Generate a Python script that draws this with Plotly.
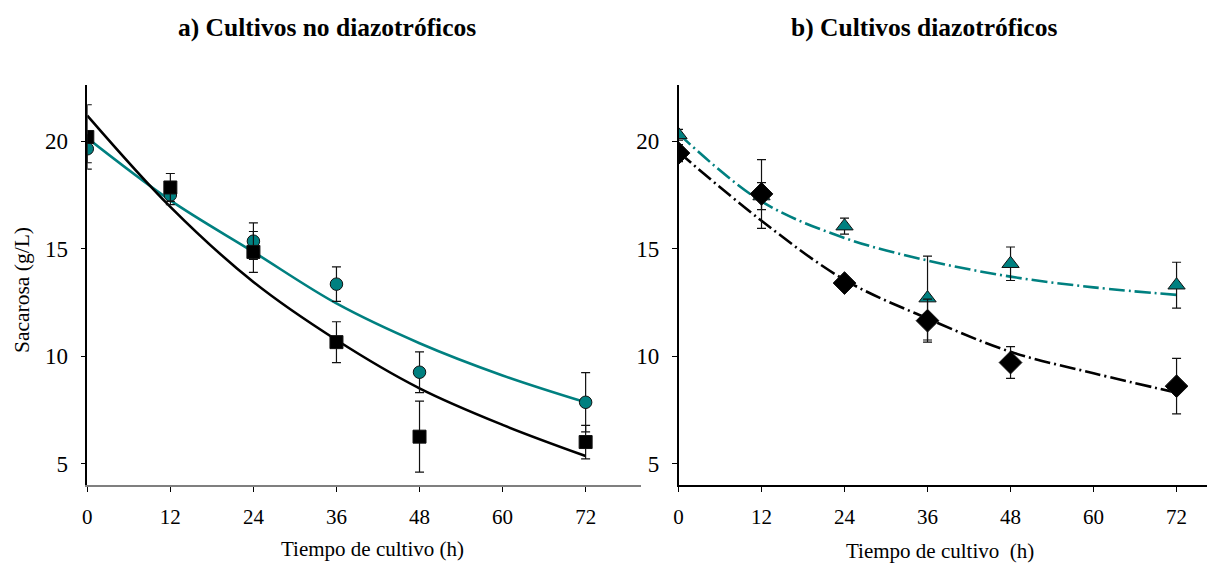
import plotly.graph_objects as go

# Sampling times (h) and measured sucrose (g/L) with standard deviations
horas = [0, 12, 24, 36, 48, 72]
horas_ajuste = [0, 12, 24, 36, 48, 60, 72]

# a) Non-diazotrophic cultures
no_diaz_circ = [19.65, 17.5, 15.35, 13.35, 9.25, 7.85]
no_diaz_circ_err = [0.65, 0.45, 0.85, 0.8, 0.95, 1.38]
no_diaz_cuad = [20.2, 17.85, 14.85, 10.65, 6.25, 6.0]
no_diaz_cuad_err = [1.5, 0.65, 0.95, 0.95, 1.65, 0.78]
ajuste_circ_a = [20.15, 17.25, 14.85, 12.45, 10.6, 9.1, 7.85]
ajuste_cuad_a = [21.2, 16.95, 13.45, 10.75, 8.5, 6.8, 5.35]

# b) Diazotrophic cultures
diaz_tri = [20.3, 17.45, 16.05, 12.7, 14.3, 13.3]
diaz_tri_err = [0.25, 0.63, 0.37, 1.95, 0.78, 1.07]
diaz_romb = [19.45, 17.55, 13.4, 11.65, 9.7, 8.6]
diaz_romb_err = [0.4, 1.6, 0.3, 1.0, 0.74, 1.29]
ajuste_tri_b = [20.35, 17.2, 15.5, 14.45, 13.7, 13.2, 12.85]
ajuste_romb_b = [19.5, 16.3, 13.55, 11.75, 10.2, 9.2, 8.3]

ticks_x = [0, 12, 24, 36, 48, 60, 72]
ticks_y = [5, 10, 15, 20]

TEAL = "#008080"
FONT = "Liberation Serif, Times New Roman, serif"

fig = go.Figure()


def curva(x, y, color, dash, xa, ya):
    fig.add_trace(go.Scatter(
        x=x, y=y, mode="lines", xaxis=xa, yaxis=ya,
        line=dict(color=color, width=2.6, dash=dash, shape="spline", smoothing=1.0),
        hoverinfo="skip"))


def puntos(x, y, err, symbol, size, fill, xa, ya):
    fig.add_trace(go.Scatter(
        x=x, y=y, mode="markers", xaxis=xa, yaxis=ya,
        marker=dict(symbol=symbol, size=size, color=fill,
                    line=dict(color="#111111", width=1)),
        error_y=dict(type="data", array=err, visible=True,
                     color="#111111", thickness=1.2, width=4.5)))


# Panel a
curva(horas_ajuste, ajuste_circ_a, TEAL, "solid", "x", "y")
curva(horas_ajuste, ajuste_cuad_a, "#000000", "solid", "x", "y")
puntos(horas, no_diaz_circ, no_diaz_circ_err, "circle", 12.5, TEAL, "x", "y")
puntos(horas, no_diaz_cuad, no_diaz_cuad_err, "square", 13, "#000000", "x", "y")

# Panel b
dashdot = "16px,4px,2px,4px"
curva(horas_ajuste, ajuste_tri_b, TEAL, dashdot, "x2", "y2")
curva(horas_ajuste, ajuste_romb_b, "#000000", dashdot, "x2", "y2")
puntos(horas, diaz_tri, diaz_tri_err, "triangle-up", 15, TEAL, "x2", "y2")
puntos(horas, diaz_romb, diaz_romb_err, "diamond", 17.5, "#000000", "x2", "y2")

W, H = 1209, 563
y_dom = [(H - 485) / H, (H - 85) / H]

eje_x = dict(tickvals=ticks_x, ticks="outside", ticklen=5, tickwidth=1,
             tickfont=dict(family=FONT, size=21, color="#000000"),
             ticklabelstandoff=7, showgrid=False, zeroline=False,
             showline=True, linewidth=1.5, automargin=False)
eje_y = dict(tickvals=ticks_y, ticks="outside", ticklen=5, tickwidth=1,
             tickfont=dict(family=FONT, size=23, color="#000000"),
             ticklabelstandoff=8, showgrid=False, zeroline=False,
             showline=True, linewidth=1.5, linecolor="#000000",
             tickcolor="#000000", range=[4.0, 22.62], automargin=False)

fig.update_layout(
    width=W, height=H,
    margin=dict(l=0, r=0, t=0, b=0),
    paper_bgcolor="white", plot_bgcolor="white",
    showlegend=False,
    xaxis=dict(eje_x, domain=[87.3 / W, 641 / W], range=[0, 80],
               linecolor="#7f7f7f", tickcolor="#000000", anchor="y"),
    yaxis=dict(eje_y, domain=y_dom, anchor="x"),
    xaxis2=dict(eje_x, domain=[678.5 / W, 1207 / W], range=[0, 76.4],
                linecolor="#000000", tickcolor="#000000", anchor="y2"),
    yaxis2=dict(eje_y, domain=y_dom, anchor="x2"),
)

textos = [
    ("a) Cultivos no diazotróficos", 327, 27, 25.5, True, 0),
    ("b) Cultivos diazotróficos", 924, 27, 25.5, True, 0),
    ("Tiempo de cultivo (h)", 372, 549, 21, False, 0),
    ("Tiempo de cultivo  (h)", 940, 551, 21, False, 0),
    ("Sacarosa (g/L)", 22, 290, 21.5, False, -90),
]
for txt, px, py, sz, bold, ang in textos:
    fig.add_annotation(
        text=f"<b>{txt}</b>" if bold else txt.replace("  ", "&nbsp; "),
        x=px / W, y=1 - py / H, xref="paper", yref="paper",
        xanchor="center", yanchor="middle", showarrow=False, textangle=ang,
        font=dict(family=FONT, size=sz, color="#000000"))

fig.write_html("out.html")
